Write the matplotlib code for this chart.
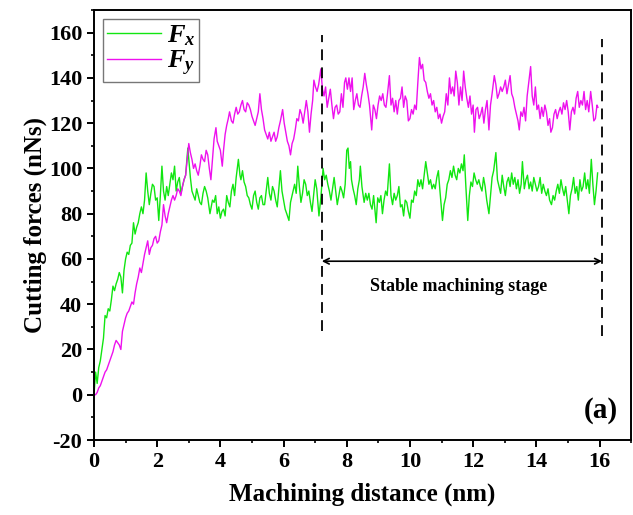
"""
Cutting forces vs. machining distance, panel (a).
"""
import matplotlib
matplotlib.use('Agg')
import matplotlib.pyplot as plt
from matplotlib.ticker import MultipleLocator

# ── data: (distance nm, force nN) ────────────────────────────────────────────

FX_POINTS = [
    (0.00, 0), (0.05, 10), (0.10, 5), (0.15, 12), (0.20, 15), (0.25, 20), (0.30, 25), (0.35, 35),
    (0.40, 34), (0.45, 38), (0.50, 37), (0.55, 42), (0.60, 48), (0.65, 46), (0.70, 49), (0.75, 51),
    (0.80, 54), (0.85, 52), (0.90, 45), (0.95, 55), (1.00, 60), (1.05, 63), (1.10, 62), (1.15, 66),
    (1.20, 67), (1.25, 76), (1.30, 71), (1.35, 74), (1.40, 76), (1.45, 80), (1.50, 83), (1.55, 80),
    (1.60, 86), (1.65, 98), (1.70, 90), (1.75, 84), (1.80, 89), (1.85, 93), (1.90, 92), (1.95, 86),
    (2.00, 87), (2.05, 77), (2.10, 88), (2.15, 101), (2.20, 90), (2.25, 86), (2.30, 92), (2.35, 88),
    (2.40, 93), (2.45, 98), (2.50, 95), (2.55, 101), (2.60, 90), (2.65, 94), (2.70, 96), (2.75, 89),
    (2.80, 92), (2.85, 95), (2.90, 97), (2.97, 109), (3.05, 96), (3.10, 90), (3.15, 88), (3.20, 86),
    (3.25, 91), (3.30, 88), (3.35, 85), (3.40, 84), (3.45, 89), (3.50, 92), (3.55, 90), (3.60, 87),
    (3.67, 80), (3.75, 86), (3.80, 85), (3.85, 88), (3.90, 80), (3.95, 83), (4.00, 78), (4.05, 81),
    (4.10, 82), (4.15, 79), (4.20, 88), (4.25, 85), (4.30, 83), (4.35, 90), (4.40, 93), (4.45, 88),
    (4.50, 96), (4.57, 104), (4.62, 97), (4.65, 95), (4.70, 99), (4.75, 94), (4.80, 92), (4.85, 88),
    (4.90, 87), (4.95, 84), (5.00, 82), (5.05, 88), (5.10, 90), (5.15, 85), (5.20, 82), (5.25, 87),
    (5.30, 88), (5.35, 84), (5.40, 84), (5.45, 90), (5.50, 96), (5.55, 89), (5.60, 86), (5.65, 92),
    (5.70, 90), (5.75, 86), (5.80, 83), (5.85, 91), (5.90, 99), (5.95, 90), (6.00, 86), (6.05, 82),
    (6.10, 80), (6.17, 77), (6.22, 85), (6.27, 88), (6.30, 90), (6.35, 93), (6.40, 89), (6.45, 101),
    (6.50, 92), (6.55, 85), (6.60, 89), (6.65, 95), (6.70, 93), (6.75, 88), (6.80, 90), (6.85, 85),
    (6.90, 81), (6.95, 88), (7.00, 95), (7.05, 91), (7.12, 79), (7.18, 87), (7.25, 100), (7.30, 95),
    (7.35, 97), (7.40, 93), (7.45, 90), (7.50, 86), (7.55, 91), (7.60, 96), (7.65, 90), (7.70, 84),
    (7.75, 88), (7.80, 92), (7.85, 90), (7.90, 87), (7.95, 93), (8.00, 108), (8.04, 109), (8.08, 100),
    (8.12, 103), (8.15, 95), (8.20, 91), (8.25, 88), (8.30, 84), (8.35, 91), (8.40, 95), (8.43, 101),
    (8.48, 92), (8.55, 85), (8.60, 89), (8.65, 86), (8.70, 89), (8.75, 84), (8.80, 82), (8.85, 88),
    (8.93, 76), (8.98, 87), (9.03, 85), (9.08, 88), (9.13, 80), (9.18, 86), (9.23, 90), (9.28, 88),
    (9.35, 102), (9.40, 88), (9.45, 84), (9.50, 89), (9.55, 86), (9.60, 88), (9.65, 92), (9.70, 83),
    (9.75, 84), (9.80, 79), (9.85, 86), (9.90, 85), (9.95, 81), (10.00, 78), (10.05, 86), (10.10, 85),
    (10.15, 90), (10.20, 88), (10.25, 95), (10.30, 92), (10.35, 95), (10.40, 91), (10.45, 97),
    (10.50, 103), (10.55, 98), (10.60, 93), (10.65, 95), (10.70, 91), (10.75, 93), (10.80, 91),
    (10.85, 96), (10.90, 99), (10.95, 90), (11.03, 77), (11.08, 84), (11.13, 87), (11.18, 93),
    (11.23, 95), (11.28, 99), (11.33, 96), (11.38, 101), (11.43, 97), (11.48, 95), (11.53, 100),
    (11.58, 98), (11.63, 102), (11.68, 99), (11.72, 106), (11.77, 92), (11.83, 77), (11.88, 88),
    (11.93, 94), (11.98, 92), (12.03, 98), (12.08, 95), (12.13, 93), (12.18, 95), (12.23, 92),
    (12.28, 90), (12.33, 96), (12.38, 92), (12.43, 86), (12.50, 80), (12.55, 88), (12.60, 96),
    (12.65, 99), (12.72, 107), (12.77, 95), (12.82, 92), (12.87, 89), (12.92, 97), (12.97, 92),
    (13.02, 88), (13.07, 94), (13.12, 96), (13.17, 92), (13.22, 98), (13.27, 93), (13.32, 96),
    (13.37, 91), (13.42, 95), (13.47, 89), (13.52, 93), (13.56, 103), (13.62, 91), (13.67, 95),
    (13.72, 97), (13.77, 91), (13.82, 94), (13.87, 90), (13.92, 96), (13.97, 93), (14.02, 90),
    (14.07, 92), (14.12, 96), (14.17, 89), (14.22, 93), (14.27, 90), (14.32, 88), (14.37, 91),
    (14.42, 86), (14.48, 84), (14.53, 88), (14.58, 86), (14.63, 90), (14.68, 93), (14.73, 89),
    (14.78, 95), (14.83, 91), (14.88, 88), (14.93, 92), (14.98, 86), (15.03, 80), (15.08, 88),
    (15.13, 91), (15.18, 96), (15.23, 89), (15.28, 92), (15.33, 86), (15.38, 95), (15.43, 90),
    (15.48, 92), (15.53, 98), (15.58, 91), (15.63, 95), (15.68, 89), (15.74, 104), (15.79, 93),
    (15.84, 84), (15.89, 90), (15.94, 98),
]

FY_POINTS = [
    (0.00, 0), (0.05, 0), (0.10, 1), (0.15, 3), (0.20, 4), (0.25, 6), (0.30, 8), (0.35, 10),
    (0.40, 11), (0.45, 13), (0.50, 15), (0.55, 17), (0.60, 19), (0.65, 22), (0.70, 24), (0.75, 23),
    (0.80, 22), (0.85, 20), (0.90, 28), (0.95, 31), (1.00, 34), (1.05, 36), (1.10, 37), (1.15, 39),
    (1.20, 41), (1.25, 40), (1.30, 45), (1.35, 49), (1.40, 52), (1.45, 56), (1.50, 54), (1.55, 58),
    (1.60, 62), (1.65, 65), (1.70, 68), (1.75, 62), (1.80, 65), (1.85, 66), (1.90, 69), (1.95, 70),
    (2.00, 67), (2.05, 68), (2.10, 72), (2.15, 75), (2.20, 84), (2.25, 79), (2.30, 76), (2.35, 80),
    (2.40, 83), (2.45, 86), (2.50, 88), (2.55, 86), (2.60, 88), (2.65, 91), (2.70, 90), (2.75, 88),
    (2.80, 92), (2.85, 95), (2.90, 97), (2.95, 104), (3.00, 111), (3.05, 107), (3.10, 104),
    (3.15, 100), (3.20, 102), (3.25, 99), (3.30, 97), (3.35, 101), (3.40, 106), (3.45, 104),
    (3.50, 103), (3.55, 108), (3.60, 106), (3.65, 100), (3.70, 95), (3.75, 104), (3.80, 113),
    (3.86, 118), (3.90, 112), (3.95, 110), (4.00, 108), (4.06, 101), (4.10, 108), (4.15, 115),
    (4.20, 119), (4.25, 122), (4.29, 125), (4.35, 121), (4.40, 120), (4.45, 124), (4.50, 127),
    (4.55, 124), (4.60, 125), (4.65, 128), (4.70, 130), (4.75, 126), (4.80, 125), (4.85, 129),
    (4.90, 128), (4.95, 126), (5.00, 123), (5.05, 121), (5.10, 119), (5.15, 122), (5.20, 125),
    (5.25, 133), (5.30, 126), (5.35, 122), (5.40, 117), (5.45, 115), (5.50, 113), (5.55, 116),
    (5.60, 112), (5.65, 114), (5.70, 116), (5.75, 112), (5.80, 114), (5.85, 118), (5.90, 121),
    (5.97, 126), (6.02, 120), (6.07, 116), (6.12, 112), (6.17, 110), (6.22, 106), (6.27, 111),
    (6.32, 113), (6.37, 117), (6.42, 122), (6.47, 121), (6.52, 126), (6.57, 124), (6.62, 120),
    (6.67, 125), (6.72, 130), (6.77, 125), (6.82, 116), (6.87, 124), (6.92, 130), (6.96, 139),
    (7.01, 136), (7.06, 134), (7.11, 137), (7.18, 144), (7.23, 135), (7.28, 132), (7.33, 136),
    (7.38, 127), (7.43, 131), (7.48, 135), (7.53, 128), (7.58, 122), (7.63, 127), (7.68, 128),
    (7.73, 124), (7.78, 125), (7.83, 133), (7.88, 127), (7.93, 138), (7.97, 140), (8.02, 135),
    (8.07, 140), (8.12, 134), (8.17, 140), (8.22, 126), (8.27, 130), (8.32, 133), (8.37, 128),
    (8.42, 127), (8.47, 132), (8.52, 136), (8.57, 142), (8.62, 137), (8.67, 133), (8.72, 128),
    (8.79, 117), (8.84, 128), (8.89, 126), (8.94, 122), (8.99, 128), (9.04, 132), (9.09, 130),
    (9.14, 133), (9.19, 128), (9.24, 127), (9.29, 133), (9.35, 141), (9.40, 128), (9.45, 131),
    (9.50, 125), (9.55, 130), (9.60, 124), (9.65, 130), (9.70, 131), (9.75, 136), (9.80, 127),
    (9.85, 132), (9.90, 130), (9.95, 121), (10.00, 122), (10.05, 126), (10.10, 124), (10.15, 128),
    (10.20, 126), (10.25, 138), (10.30, 149), (10.35, 144), (10.40, 146), (10.45, 139),
    (10.50, 138), (10.55, 134), (10.60, 131), (10.65, 133), (10.70, 128), (10.75, 130),
    (10.80, 125), (10.85, 127), (10.90, 122), (10.95, 124), (11.00, 120), (11.05, 123),
    (11.10, 125), (11.15, 133), (11.20, 128), (11.25, 140), (11.30, 133), (11.35, 136),
    (11.40, 132), (11.45, 143), (11.50, 138), (11.55, 128), (11.60, 136), (11.65, 130),
    (11.70, 143), (11.75, 136), (11.80, 131), (11.85, 127), (11.90, 132), (11.95, 124),
    (12.00, 128), (12.04, 116), (12.09, 126), (12.14, 127), (12.19, 122), (12.24, 124),
    (12.29, 127), (12.34, 120), (12.39, 126), (12.44, 130), (12.50, 117), (12.55, 128),
    (12.60, 133), (12.67, 141), (12.72, 137), (12.77, 131), (12.82, 133), (12.87, 136),
    (12.92, 134), (12.97, 136), (13.02, 139), (13.07, 133), (13.12, 137), (13.17, 141),
    (13.22, 133), (13.27, 131), (13.32, 127), (13.37, 124), (13.42, 121), (13.46, 117),
    (13.51, 125), (13.56, 123), (13.61, 127), (13.66, 121), (13.71, 132), (13.76, 138),
    (13.82, 145), (13.87, 132), (13.92, 128), (13.97, 136), (14.02, 126), (14.07, 128),
    (14.12, 122), (14.17, 127), (14.22, 123), (14.27, 128), (14.32, 125), (14.37, 119),
    (14.42, 122), (14.46, 116), (14.51, 118), (14.56, 124), (14.61, 126), (14.66, 122),
    (14.71, 125), (14.76, 127), (14.81, 124), (14.86, 129), (14.91, 126), (14.96, 130),
    (15.01, 125), (15.06, 117), (15.11, 125), (15.16, 127), (15.21, 124), (15.26, 131),
    (15.31, 134), (15.36, 127), (15.41, 130), (15.46, 128), (15.51, 134), (15.56, 126),
    (15.61, 130), (15.66, 125), (15.72, 134), (15.77, 128), (15.82, 121), (15.87, 122),
    (15.92, 128), (15.95, 127),
]

fx_dist = [p[0] for p in FX_POINTS]
fx_force = [p[1] for p in FX_POINTS]
fy_dist = [p[0] for p in FY_POINTS]
fy_force = [p[1] for p in FY_POINTS]

stage_start = 7.21
stage_end = 16.08

# ── figure ────────────────────────────────────────────────────────────────────

plt.rcParams['font.family'] = 'Liberation Serif'
plt.rcParams['font.weight'] = 'bold'
plt.rcParams['axes.unicode_minus'] = False
plt.rcParams['mathtext.fontset'] = 'custom'
plt.rcParams['mathtext.it'] = 'Liberation Serif:italic:bold'
plt.rcParams['mathtext.rm'] = 'Liberation Serif:bold'

fig = plt.figure(figsize=(6.33, 5.15), dpi=100)
ax = fig.add_axes([0.1485, 0.1456, 0.8485, 0.835])

ax.plot(fx_dist, fx_force, color='#11e611', linewidth=1.0, label='$F_x$')
ax.plot(fy_dist, fy_force, color='#ee11ee', linewidth=1.0, label='$F_y$')

# stable machining stage markers
ax.plot([stage_start, stage_start], [28, 159], color='black', linestyle=(0, (6, 4)), linewidth=1.3)
ax.plot([stage_end, stage_end], [26, 157], color='black', linestyle=(0, (6, 4)), linewidth=1.3)
ax.annotate('', xy=(stage_start, 59), xytext=(stage_end, 59),
            arrowprops=dict(arrowstyle='<->', color='black', lw=1.2, shrinkA=0, shrinkB=0))
ax.text((stage_start + stage_end) / 2 - 0.1, 48, 'Stable machining stage',
        ha='center', va='center', fontsize=13, fontweight='bold')
ax.text(16.05, -7, '(a)', ha='center', va='center', fontsize=21, fontweight='bold')

ax.set_xlim(0, 17)
ax.set_ylim(-20, 170)
ax.xaxis.set_major_locator(MultipleLocator(2))
ax.xaxis.set_minor_locator(MultipleLocator(1))
ax.yaxis.set_major_locator(MultipleLocator(20))
ax.yaxis.set_minor_locator(MultipleLocator(10))
ax.tick_params(which='major', direction='out', length=5, width=1.4, labelsize=16)
ax.tick_params(which='minor', direction='out', length=2.5, width=1.2)
for sp in ax.spines.values():
    sp.set_linewidth(1.4)

ax.set_xlabel('Machining distance (nm)', fontsize=18, fontweight='bold', labelpad=8)
ax.set_ylabel('Cutting forces (nNs)', fontsize=18, fontweight='bold', labelpad=1)

leg = ax.legend(loc='upper left', fontsize=19, handlelength=2.05, fancybox=False,
                edgecolor='#555555', borderaxespad=0.35, labelspacing=0.05,
                handletextpad=0.2, borderpad=0.15)
leg.get_frame().set_linewidth(1.0)

plt.savefig('out.png', dpi=100)
plt.close()
